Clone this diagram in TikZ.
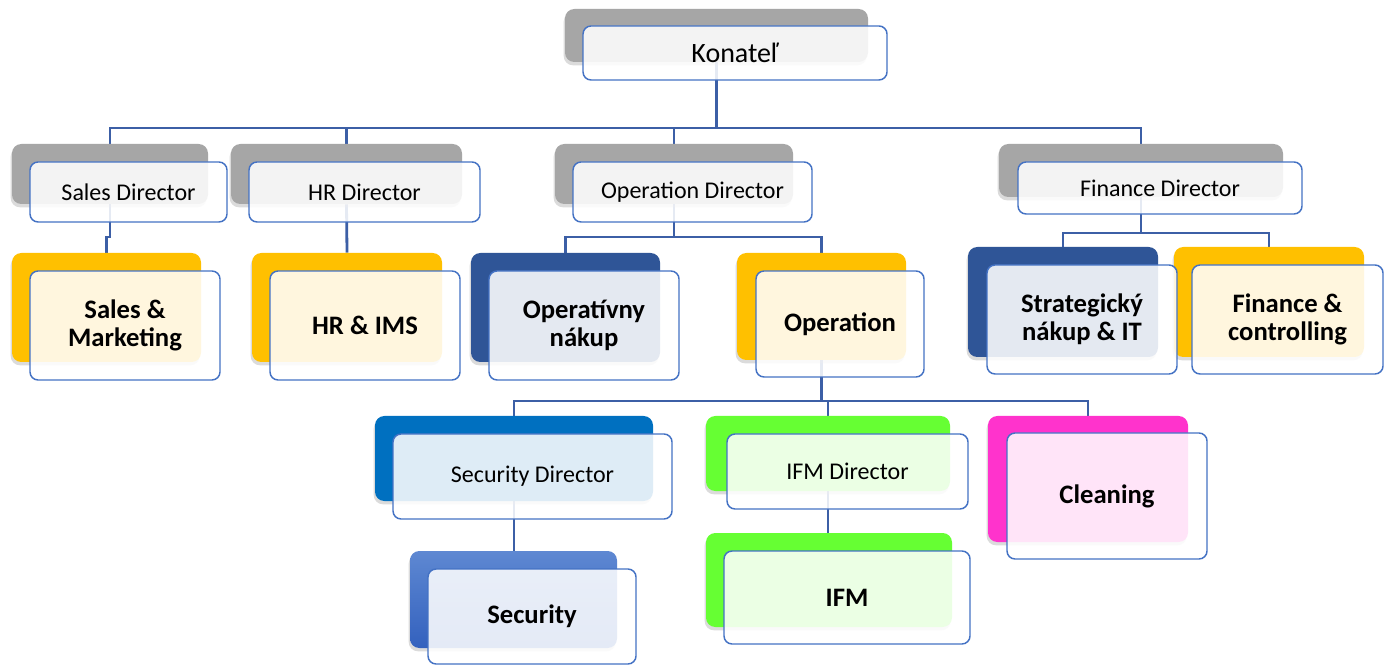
\documentclass[tikz,border=0pt]{standalone}
\usepackage{fontspec}
\setmainfont{Carlito}
\usetikzlibrary{shadows}
\pgfdeclarelayer{bg}
\pgfsetlayers{bg,main}
\definecolor{conn}{HTML}{3C5FA6}
\definecolor{bord}{HTML}{4472C4}
\definecolor{grayb}{HTML}{A6A6A6}
\definecolor{yelb}{HTML}{FFC000}
\definecolor{navyb}{HTML}{2F5597}
\definecolor{sblueb}{HTML}{0070C0}
\definecolor{grnb}{HTML}{66FF33}
\definecolor{magb}{HTML}{FF33CC}
\definecolor{secT}{HTML}{5E88D2}
\definecolor{secB}{HTML}{3361BE}
\begin{document}
\begin{tikzpicture}[x=0.75pt,y=-0.75pt,
  wh/.style 2 args={minimum width=#1*0.75pt,minimum height=#2*0.75pt},
  backbox/.style={rectangle,rounded corners=7pt,inner sep=0pt,draw=none,
    drop shadow={opacity=0.28,shadow xshift=-1pt,shadow yshift=-2.5pt}},
  frontbox/.style={rectangle,rounded corners=6pt,inner sep=0pt,draw=bord,line width=1.1pt,
    fill=white,fill opacity=0.87,text opacity=1,align=center,font=\fontsize{18}{21}\selectfont},
  unitlbl/.style={font=\fontsize{20}{21}\selectfont\bfseries},
  link/.style={draw=conn,line width=2.1pt}]
\useasboundingbox (0,0) rectangle (1389,666);

% ---- back boxes
\node[backbox,fill=grayb,wh={303}{53}]  (bk)  at (716.5,35.5) {};
\node[backbox,fill=grayb,wh={196}{60}]  (bsd) at (110,174) {};
\node[backbox,fill=grayb,wh={231}{60}]  (bhd) at (346.5,174) {};
\node[backbox,fill=grayb,wh={238}{60}]  (bod) at (674,174) {};
\node[backbox,fill=grayb,wh={284}{53}]  (bfd) at (1141,170.5) {};
\node[backbox,fill=yelb,wh={189}{109}]  (bsm) at (106.5,307.5) {};
\node[backbox,fill=yelb,wh={190}{109}]  (bhr) at (347,307.5) {};
\node[backbox,fill=navyb,wh={189}{109}] (bon) at (565.5,307.5) {};
\node[backbox,fill=yelb,wh={169}{107}]  (bop) at (821.5,306.5) {};
\node[backbox,fill=navyb,wh={190}{110}] (bst) at (1063,302) {};
\node[backbox,fill=yelb,wh={190}{110}]  (bfc) at (1269,302) {};
\node[backbox,fill=sblueb,wh={278}{85}] (bsc) at (514,458.5) {};
\node[backbox,fill=grnb,wh={244}{75}]   (bid) at (828,453.5) {};
\node[backbox,fill=magb,wh={200}{126}]  (bcl) at (1088,479) {};
\node[backbox,top color=secT,bottom color=secB,wh={207}{97}] (bse) at (513.5,599.5) {};
\node[backbox,fill=grnb,wh={246}{94}]   (bif) at (829,580) {};

% ---- front boxes
\node[frontbox,wh={304}{54},font=\fontsize{21}{24}\selectfont] (fk) at (735,53) {Konateľ};
\node[frontbox,wh={197}{60}] (fsd) at (128.5,192) {Sales Director};
\node[frontbox,wh={231}{60}] (fhd) at (364.5,192) {HR Director};
\node[frontbox,wh={239}{60}] (fod) at (692.5,192) {Operation Director};
\node[frontbox,wh={284}{52}] (ffd) at (1160,188) {Finance Director};
\node[frontbox,unitlbl,wh={190}{109}] (fsm) at (125,325.5) {Sales \&\\Marketing};
\node[frontbox,unitlbl,wh={190}{109}] (fhr) at (365,325.5) {HR \& IMS};
\node[frontbox,unitlbl,wh={190}{109}] (fon) at (584,325.5) {Operatívny\\nákup};
\node[frontbox,unitlbl,wh={168}{106}] (fop) at (840,324) {Operation};
\node[frontbox,unitlbl,wh={190}{109}] (fst) at (1082,319.5) {Strategický\\nákup \& IT};
\node[frontbox,unitlbl,wh={191}{109}] (ffc) at (1287.5,319.5) {Finance \&\\controlling};
\node[frontbox,wh={279}{85}] (fsc) at (532.5,476.5) {Security Director};
\node[frontbox,wh={241}{75}] (fid) at (847.5,471.5) {IFM Director};
\node[frontbox,unitlbl,wh={200}{126}] (fcl) at (1107,496) {Cleaning};
\node[frontbox,unitlbl,wh={208}{95}] (fse) at (532,616.5) {Security};
\node[frontbox,unitlbl,wh={246}{93}] (fif) at (847,597.5) {IFM};

% ---- connectors
\coordinate (bus0) at (0,128);
\coordinate (busS) at (0,237);
\coordinate (busO) at (0,237);
\coordinate (busF) at (0,233);
\coordinate (busP) at (0,401);
\begin{pgfonlayer}{bg}
\fill[white] (0,0) rectangle (1389,666);
\foreach \c in {bsd,bhd,bod,bfd}
  \draw[link] (bk.south) -- (bk.south |- bus0) -| (\c.north);
\draw[link] (bsd.south) -- (bsd.south |- busS) -| (bsm.north);
\draw[link] (bhd.south) -- (bhr.north);
\foreach \c in {bon,bop}
  \draw[link] (bod.south) -- (bod.south |- busO) -| (\c.north);
\foreach \c in {bst,bfc}
  \draw[link] (bfd.south) -- (bfd.south |- busF) -| (\c.north);
\foreach \c in {bsc,bid,bcl}
  \draw[link] (bop.south) -- (bop.south |- busP) -| (\c.north);
\draw[link] (bsc.south) -- (bsc.south |- bse.north);
\draw[link] (bid.south) -- (bid.south |- bif.north);
\end{pgfonlayer}
\end{tikzpicture}
\end{document}
